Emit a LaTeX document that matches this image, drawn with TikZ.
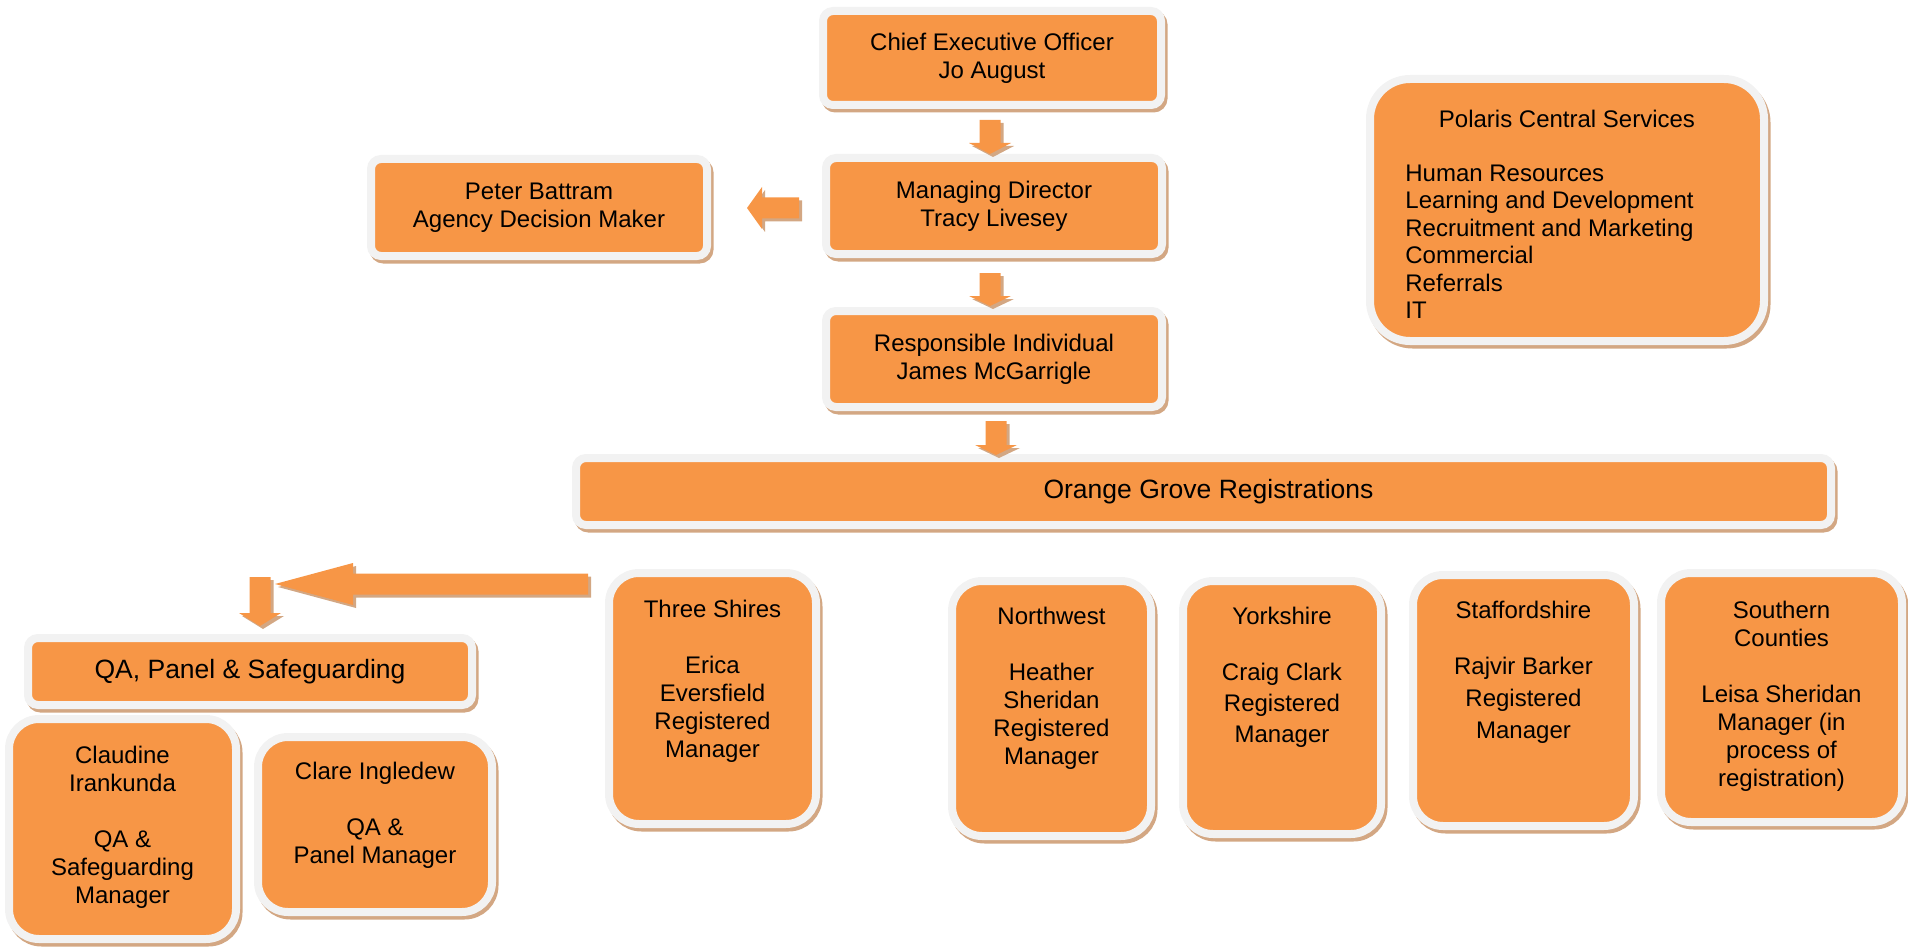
\documentclass[tikz,border=0pt]{standalone}
\usepackage{fontspec}
\setmainfont{Liberation Sans}
\usetikzlibrary{calc}
\definecolor{boxfill}{HTML}{F79646}
\definecolor{boxrim}{HTML}{F2F2F2}
\definecolor{boxsh}{HTML}{D3A783}
\tikzset{
  box/.style={rectangle, rounded corners=#1, fill=boxfill, draw=boxrim, line width=4pt,
    inner sep=0pt, outer sep=0pt, align=center, font=\fontsize{12}{14}\selectfont,
    preaction={fill=boxsh, draw=boxsh, transform canvas={shift={(1.25pt,-1.75pt)}}}},
  box/.default=5pt,
  tallbox/.style={box=15pt},
  sz/.style 2 args={minimum width=#1*0.5pt, minimum height=#2*0.5pt},
  txt/.style={anchor=north, align=center, inner sep=0pt, font=\fontsize{12}{14}\selectfont},
  bigtxt/.style={font=\fontsize{13.25}{15}\selectfont},
  arrfill/.style={fill=boxfill},
  arrsh/.style={fill=boxsh, transform canvas={shift={(1.5pt,-1.5pt)}}},
}
\newcommand\bdownpath[3]{let \p1=#1, \p2=#2 in (\x1-5.25pt,\y1) -- (\x1+5.25pt,\y1) -- (\x1+5.25pt,\y2+#3) -- (\x1+10.5pt,\y2+#3) -- (\x1,\y2) -- (\x1-10.5pt,\y2+#3) -- (\x1-5.25pt,\y2+#3) -- cycle}
\newcommand\bleftpath[3]{let \p1=#1, \p2=#2 in (\x1,\y1+5.25pt) -- (\x1,\y1-5.25pt) -- (\x2+#3,\y1-5.25pt) -- (\x2+#3,\y1-10.5pt) -- (\x2,\y1) -- (\x2+#3,\y1+10.5pt) -- (\x2+#3,\y1+5.25pt) -- cycle}
\newcommand\bdown[3]{\fill[arrsh] \bdownpath{#1}{#2}{#3}; \fill[arrfill] \bdownpath{#1}{#2}{#3};}
\newcommand\bleft[3]{\fill[arrsh] \bleftpath{#1}{#2}{#3}; \fill[arrfill] \bleftpath{#1}{#2}{#3};}
\newcommand\topline{\rule{0pt}{10pt}}
\begin{document}
\begin{tikzpicture}[x=0.5pt,y=-0.5pt]
\useasboundingbox (0,0) rectangle (1908,947);
% top chain
\node[box, sz={338}{94}] (ceo) at (992,58) {Chief Executive Officer\\Jo August};
\node[box, sz={336}{96}] (md) at (994,206) {Managing Director\\Tracy Livesey};
\node[box, sz={336}{96}] (ri) at (994,359) {Responsible Individual\\James McGarrigle};
\node[box, sz={336}{97}] (pb) at (539,207.5) {Peter Battram\\Agency Decision Maker};
\node[box, bigtxt, sz={1255}{67}] (ogr) at (1203.5,491.5) {\hspace*{5pt}Orange Grove Registrations};
% Polaris
\node[box=20pt, sz={394}{262}] (pcs) at (1567,210) {};
\node[txt] (pcs-t) at ($(pcs.north)+(0,28)$) {\topline Polaris Central Services};
\node[txt, anchor=north west, align=left, font=\fontsize{12}{13.75}\selectfont] (pcs-l) at ($(pcs.north west)+(35,82)$)
  {\topline Human Resources\\Learning and Development\\Recruitment and Marketing\\Commercial\\Referrals\\IT};
% QA
\node[box, bigtxt, sz={444}{67}] (qa) at (250,671.5) {QA, Panel \& Safeguarding};
\node[tallbox, sz={227}{220}] (cl) at (122.5,829) {};
\node[txt] (cl-t) at ($(cl.north)+(0,24)$) {\topline Claudine\\Irankunda\\[14pt]QA \&\\Safeguarding\\Manager};
\node[tallbox, sz={234}{175}] (cr) at (375,824.5) {};
\node[txt] (cr-t) at ($(cr.north)+(0,22)$) {\topline Clare Ingledew\\[14pt]QA \&\\Panel Manager};
% regions
\node[tallbox, sz={207}{251}] (ts) at (712.5,698.5) {};
\node[txt] (ts-t) at ($(ts.north)+(0,24)$) {\topline Three Shires\\[14pt]Erica\\Eversfield\\Registered\\Manager};
\node[tallbox, sz={199}{255}] (nw) at (1051.5,708.5) {};
\node[txt] (nw-t) at ($(nw.north)+(0,23)$) {\topline Northwest\\[14pt]Heather\\Sheridan\\Registered\\Manager};
\node[tallbox, sz={198}{253}] (yk) at (1282,707.5) {};
\node[txt, font=\fontsize{12}{15.5}\selectfont] (yk-t) at ($(yk.north)+(0,23)$) {\topline Yorkshire\\[12.5pt]Craig Clark\\Registered\\Manager};
\node[tallbox, sz={221}{251}] (sf) at (1523.5,700.5) {};
\node[txt, font=\fontsize{12}{16}\selectfont] (sf-t) at ($(sf.north)+(0,23)$) {\topline Staffordshire\\[12pt]Rajvir Barker\\Registered\\Manager};
\node[tallbox, sz={241}{249}] (sc) at (1781.5,697.5) {};
\node[txt] (sc-t) at ($(sc.north)+(0,25)$) {\topline Southern\\Counties\\[14pt]Leisa Sheridan\\Manager (in\\process of\\registration)};
% block arrows
\bdown{($(ceo.south)+(-2,15)$)}{($(md.north)+(-4,-4)$)}{5.5pt}
\bdown{($(md.south)+(-4,19)$)}{($(ri.north)+(-4,-5)$)}{5pt}
\bdown{($(ri.south)+(2,14)$)}{($(ri.south |- ogr.north)+(2,-3)$)}{5pt}
\bleft{($(md.west)+(-27,2)$)}{($(pb.east)+(40,0.5)$)}{7.5pt}
\bdown{($(qa.north)+(10,-61)$)}{($(qa.north)+(10,-12)$)}{6.5pt}
\bleft{($(ts.north west)+(-21,11)$)}{($(qa.north)+(25,-54)$)}{39pt}
\end{tikzpicture}
\end{document}
